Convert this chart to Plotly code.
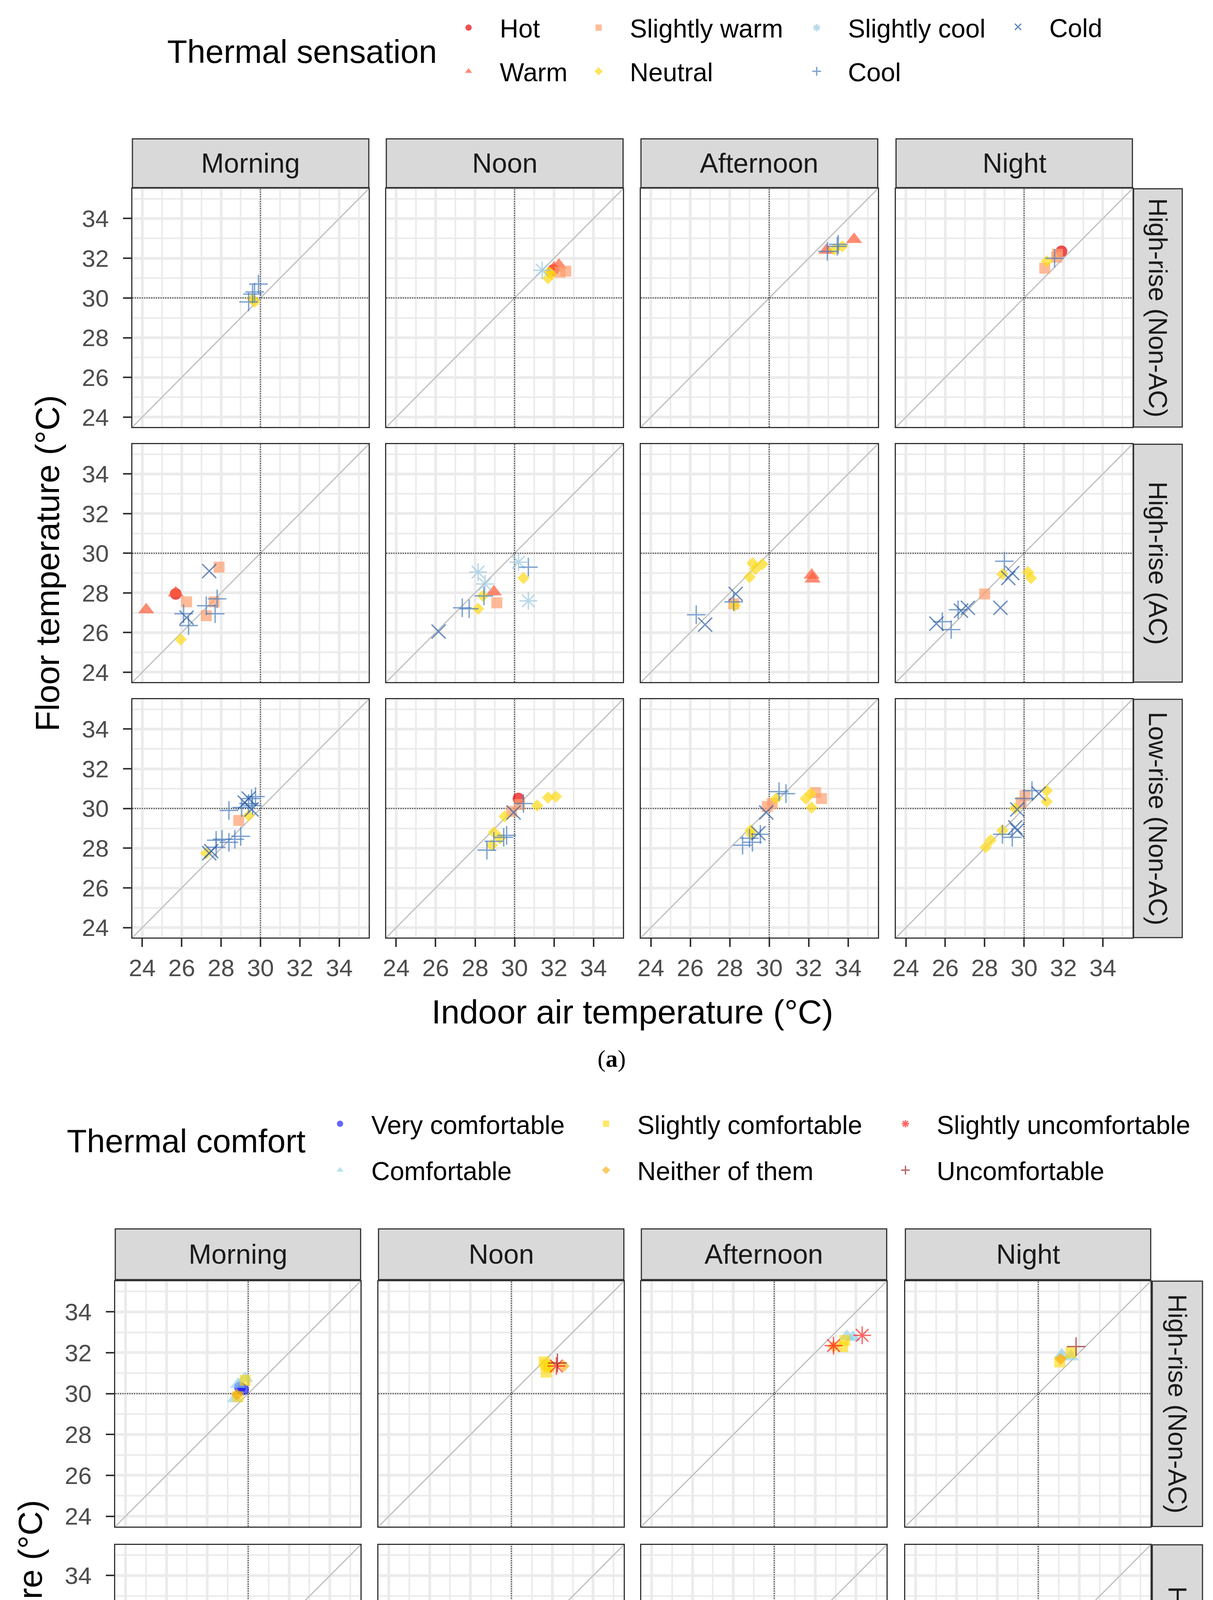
import plotly.graph_objects as go

# 1. Data (indoor air temp, floor temp) per facet
periods = ["Morning", "Noon", "Afternoon", "Night"]
buildings = ["High-rise (Non-AC)", "High-rise (AC)", "Low-rise (Non-AC)"]
axis_ticks = [24, 26, 28, 30, 32, 34]
minor_ticks = [23, 25, 27, 29, 31, 33, 35]

sensation_levels = ["Hot", "Warm", "Slightly warm", "Neutral", "Slightly cool", "Cool", "Cold"]
comfort_levels = ["Very comfortable", "Comfortable", "Slightly comfortable",
                  "Neither of them", "Slightly uncomfortable", "Uncomfortable"]

# (a) thermal sensation
sens_hn_morning = [("Cool", 29.9, 30.7), ("Cool", 29.7, 30.3), ("Cool", 29.6, 30.2), ("Cool", 29.4, 29.8),
                   ("Neutral", 29.6, 29.95), ("Neutral", 29.7, 29.8)]
sens_hn_noon = [("Slightly cool", 31.4, 31.4), ("Neutral", 31.75, 31.3), ("Neutral", 31.7, 31.0),
                ("Neutral", 31.85, 31.2), ("Hot", 31.95, 31.4), ("Warm", 32.25, 31.65), ("Warm", 32.0, 31.5),
                ("Slightly warm", 32.6, 31.35), ("Slightly warm", 32.3, 31.3)]
sens_hn_afternoon = [("Warm", 32.9, 32.4), ("Cool", 32.95, 32.35), ("Neutral", 33.3, 32.45), ("Neutral", 33.7, 32.6),
                     ("Cool", 33.5, 32.7), ("Cool", 33.45, 32.6), ("Warm", 34.3, 32.95)]
sens_hn_night = [("Hot", 31.9, 32.35), ("Slightly warm", 31.65, 32.05), ("Cool", 31.55, 32.0),
                 ("Slightly warm", 31.05, 31.5), ("Neutral", 31.15, 31.85), ("Slightly warm", 31.7, 32.2)]
sens_ha_morning = [("Warm", 24.2, 27.15), ("Hot", 25.7, 27.95), ("Warm", 25.7, 28.0), ("Slightly warm", 26.25, 27.55),
                   ("Cold", 26.25, 26.75), ("Cool", 26.35, 26.35), ("Neutral", 25.95, 25.65), ("Cold", 27.4, 29.1),
                   ("Slightly warm", 27.9, 29.3), ("Slightly warm", 27.25, 26.85), ("Slightly warm", 27.65, 27.55),
                   ("Cool", 27.8, 27.7), ("Cool", 27.25, 27.35), ("Cool", 27.7, 26.95), ("Cool", 26.1, 26.95)]
sens_ha_noon = [("Cold", 26.15, 26.05), ("Cool", 27.35, 27.25), ("Cool", 27.7, 27.2), ("Neutral", 28.15, 27.2),
                ("Neutral", 28.4, 27.85), ("Cool", 28.45, 27.85), ("Slightly cool", 28.15, 29.05),
                ("Slightly cool", 28.5, 28.45), ("Warm", 28.95, 28.05), ("Slightly warm", 29.1, 27.5),
                ("Slightly cool", 30.2, 29.55), ("Cool", 30.7, 29.3), ("Neutral", 30.45, 28.75),
                ("Slightly cool", 30.7, 27.6)]
sens_ha_afternoon = [("Cool", 26.3, 26.9), ("Cold", 26.75, 26.4), ("Cold", 28.3, 27.95), ("Cool", 28.2, 27.55),
                     ("Slightly warm", 28.2, 27.45), ("Neutral", 28.25, 27.35), ("Neutral", 29.0, 28.8),
                     ("Neutral", 29.15, 29.5), ("Neutral", 29.65, 29.45), ("Neutral", 29.3, 29.2),
                     ("Warm", 32.15, 28.9), ("Warm", 32.2, 28.7)]
sens_ha_night = [("Cool", 25.85, 26.55), ("Cold", 25.55, 26.45), ("Cool", 26.3, 26.15), ("Cool", 26.65, 27.15),
                 ("Cold", 26.8, 27.1), ("Cold", 27.15, 27.25), ("Slightly warm", 28.0, 27.95), ("Cold", 28.8, 27.25),
                 ("Cool", 29.0, 29.6), ("Cold", 29.2, 28.75), ("Cold", 29.4, 29.0), ("Neutral", 28.9, 28.95),
                 ("Neutral", 30.2, 29.05), ("Neutral", 30.35, 28.75)]
sens_ln_morning = [("Neutral", 27.25, 27.75), ("Cold", 27.4, 27.75), ("Cold", 27.5, 27.85), ("Cool", 27.75, 28.05),
                   ("Cool", 27.75, 28.4), ("Cool", 28.05, 28.45), ("Cool", 28.4, 28.3), ("Cool", 28.7, 28.45),
                   ("Cool", 29.0, 28.6), ("Slightly warm", 28.9, 29.4), ("Neutral", 29.4, 29.65), ("Cool", 28.4, 29.9),
                   ("Cool", 29.05, 30.05), ("Cool", 29.4, 30.25), ("Cool", 29.55, 30.5), ("Cold", 29.4, 30.5),
                   ("Cool", 29.75, 30.6), ("Cold", 29.55, 29.95), ("Cool", 29.6, 30.15), ("Cold", 29.2, 30.3)]
sens_ln_noon = [("Cool", 28.6, 27.9), ("Neutral", 28.85, 28.15), ("Cool", 28.95, 28.35), ("Neutral", 28.95, 28.8),
                ("Neutral", 29.25, 28.5), ("Cool", 29.6, 28.65), ("Cool", 29.45, 28.55), ("Neutral", 29.5, 29.6),
                ("Slightly warm", 29.85, 29.85), ("Slightly warm", 30.25, 30.2), ("Hot", 30.2, 30.5),
                ("Cold", 29.95, 29.8), ("Cool", 30.45, 30.25), ("Neutral", 31.15, 30.15), ("Neutral", 31.7, 30.55),
                ("Neutral", 32.1, 30.6)]
sens_ln_afternoon = [("Cool", 28.65, 28.15), ("Cool", 29.15, 28.3), ("Neutral", 29.1, 28.7), ("Cold", 29.45, 28.75),
                     ("Cool", 29.55, 28.7), ("Neutral", 29.05, 28.9), ("Cool", 29.0, 28.5), ("Cold", 29.85, 29.8),
                     ("Slightly warm", 29.9, 30.1), ("Slightly warm", 30.15, 30.25), ("Neutral", 30.35, 30.5),
                     ("Cool", 30.5, 30.85), ("Cool", 30.85, 30.75), ("Neutral", 31.85, 30.5),
                     ("Slightly warm", 32.35, 30.8), ("Slightly warm", 32.65, 30.5), ("Neutral", 32.15, 30.05),
                     ("Neutral", 32.1, 30.75)]
sens_ln_night = [("Neutral", 28.05, 28.05), ("Neutral", 28.3, 28.4), ("Neutral", 28.9, 28.9), ("Cool", 28.9, 28.7),
                 ("Cool", 29.4, 28.55), ("Cold", 29.65, 28.9), ("Cold", 29.55, 29.05), ("Neutral", 29.55, 30.0),
                 ("Cold", 29.65, 29.95), ("Slightly warm", 29.85, 30.3), ("Slightly warm", 30.05, 30.65),
                 ("Cool", 30.4, 30.9), ("Cold", 30.75, 30.75), ("Neutral", 31.15, 30.9), ("Neutral", 31.15, 30.35),
                 ("Cool", 30.0, 30.5)]

# (b) thermal comfort
comf_hn_morning = [("Slightly comfortable", 29.85, 30.65), ("Comfortable", 29.85, 30.75),
                   ("Very comfortable", 29.6, 30.3), ("Comfortable", 29.5, 30.45),
                   ("Slightly comfortable", 29.5, 29.85), ("Comfortable", 29.35, 29.75),
                   ("Neither of them", 29.45, 29.95), ("Very comfortable", 29.75, 30.2)]
comf_hn_noon = [("Slightly comfortable", 31.7, 31.4), ("Slightly comfortable", 31.7, 31.05),
                ("Slightly comfortable", 31.6, 31.55), ("Uncomfortable", 32.25, 31.5),
                ("Slightly uncomfortable", 32.2, 31.35), ("Neither of them", 32.55, 31.35),
                ("Slightly comfortable", 31.85, 31.3)]
comf_hn_afternoon = [("Slightly uncomfortable", 32.9, 32.35), ("Neither of them", 32.9, 32.3),
                     ("Slightly comfortable", 33.45, 32.6), ("Slightly comfortable", 33.35, 32.3),
                     ("Comfortable", 33.55, 32.8), ("Comfortable", 33.85, 32.75),
                     ("Slightly uncomfortable", 34.3, 32.85)]
comf_hn_night = [("Slightly comfortable", 31.05, 31.55), ("Comfortable", 31.15, 31.9),
                 ("Slightly comfortable", 31.6, 32.0), ("Comfortable", 31.6, 31.8),
                 ("Uncomfortable", 31.85, 32.3), ("Neither of them", 31.1, 31.7)]
comf_ha_morning = [("Slightly uncomfortable", 24.15, 27.05), ("Slightly uncomfortable", 25.7, 27.95),
                   ("Neither of them", 25.7, 27.9), ("Slightly comfortable", 26.25, 27.55),
                   ("Very comfortable", 26.1, 26.95), ("Comfortable", 26.3, 26.3), ("Comfortable", 25.9, 25.7),
                   ("Comfortable", 26.2, 26.75), ("Very comfortable", 27.45, 29.05), ("Comfortable", 27.95, 29.35),
                   ("Very comfortable", 27.75, 27.7), ("Neither of them", 27.7, 27.6),
                   ("Slightly comfortable", 27.65, 27.55), ("Comfortable", 27.4, 27.3), ("Comfortable", 27.3, 26.9),
                   ("Comfortable", 27.7, 27.0)]
comf_ha_noon = [("Comfortable", 26.15, 26.1), ("Very comfortable", 27.3, 27.25), ("Comfortable", 27.6, 27.3),
                ("Comfortable", 28.1, 27.3), ("Comfortable", 28.15, 29.1), ("Very comfortable", 28.4, 27.85),
                ("Neither of them", 28.45, 27.9), ("Slightly comfortable", 28.6, 28.45),
                ("Slightly uncomfortable", 28.95, 27.95), ("Slightly uncomfortable", 29.05, 27.55),
                ("Comfortable", 30.15, 29.6), ("Slightly comfortable", 30.7, 29.3),
                ("Slightly comfortable", 30.4, 28.75), ("Comfortable", 30.65, 27.65)]
comf_ha_afternoon = [("Very comfortable", 26.3, 26.9), ("Comfortable", 26.8, 26.4), ("Very comfortable", 28.3, 27.4),
                     ("Slightly uncomfortable", 28.3, 27.45), ("Very comfortable", 28.35, 27.9),
                     ("Slightly comfortable", 28.45, 27.95), ("Slightly comfortable", 28.95, 28.75),
                     ("Slightly comfortable", 29.1, 28.95), ("Slightly comfortable", 29.4, 29.3),
                     ("Slightly comfortable", 29.75, 29.4), ("Comfortable", 29.15, 29.6),
                     ("Slightly uncomfortable", 32.2, 28.8), ("Uncomfortable", 32.15, 28.9)]
comf_ha_night = [("Slightly comfortable", 25.6, 26.45), ("Very comfortable", 25.8, 26.55), ("Comfortable", 26.3, 26.15),
                 ("Very comfortable", 26.7, 27.15), ("Slightly comfortable", 26.8, 27.05),
                 ("Very comfortable", 27.1, 27.2), ("Neither of them", 26.75, 27.1),
                 ("Slightly uncomfortable", 28.0, 27.95), ("Comfortable", 28.8, 27.3),
                 ("Very comfortable", 29.2, 28.5), ("Very comfortable", 29.4, 29.0), ("Neither of them", 28.85, 28.95),
                 ("Slightly comfortable", 29.0, 29.6), ("Comfortable", 30.25, 29.1), ("Comfortable", 30.4, 28.8)]
comf_ln_morning = [("Slightly comfortable", 27.25, 27.75), ("Very comfortable", 27.7, 27.85),
                   ("Comfortable", 27.25, 27.7), ("Comfortable", 27.75, 28.2), ("Slightly comfortable", 27.95, 28.5),
                   ("Comfortable", 28.25, 28.35), ("Comfortable", 28.55, 28.4), ("Comfortable", 28.85, 28.65),
                   ("Comfortable", 27.9, 28.45), ("Neither of them", 27.5, 27.8), ("Comfortable", 28.4, 29.95),
                   ("Comfortable", 28.95, 29.45), ("Slightly comfortable", 29.5, 29.7),
                   ("Very comfortable", 29.4, 30.45), ("Comfortable", 29.2, 30.6), ("Comfortable", 29.8, 30.65),
                   ("Comfortable", 29.6, 30.05), ("Comfortable", 29.0, 29.9), ("Neither of them", 29.7, 29.85)]
comf_ln_noon = [("Comfortable", 28.6, 28.0), ("Very comfortable", 29.0, 28.35), ("Comfortable", 28.95, 28.75),
                ("Comfortable", 29.45, 28.65), ("Comfortable", 29.6, 28.85), ("Comfortable", 29.55, 29.6),
                ("Comfortable", 29.85, 29.95), ("Slightly uncomfortable", 30.25, 30.45),
                ("Comfortable", 30.5, 30.45), ("Comfortable", 31.2, 30.2), ("Comfortable", 31.75, 30.6),
                ("Comfortable", 32.15, 30.65)]
comf_ln_afternoon = [("Comfortable", 28.8, 28.2), ("Comfortable", 29.1, 28.35), ("Slightly comfortable", 29.15, 28.75),
                     ("Comfortable", 29.3, 28.8), ("Comfortable", 29.6, 28.75), ("Comfortable", 29.85, 29.8),
                     ("Slightly comfortable", 29.95, 30.1), ("Slightly uncomfortable", 30.4, 30.4),
                     ("Comfortable", 30.25, 30.75), ("Comfortable", 30.55, 30.9), ("Comfortable", 30.95, 30.65),
                     ("Comfortable", 32.0, 30.75), ("Comfortable", 32.4, 30.9), ("Comfortable", 32.8, 30.55),
                     ("Comfortable", 31.85, 30.4), ("Comfortable", 32.2, 30.05)]
comf_ln_night = [("Comfortable", 28.05, 28.05), ("Comfortable", 28.4, 28.35), ("Slightly comfortable", 28.85, 28.85),
                 ("Neither of them", 28.8, 28.7), ("Comfortable", 29.35, 28.65), ("Comfortable", 29.6, 28.95),
                 ("Comfortable", 29.9, 29.05), ("Comfortable", 29.7, 29.85), ("Comfortable", 29.85, 30.25),
                 ("Slightly comfortable", 30.4, 30.5), ("Comfortable", 30.3, 31.0), ("Comfortable", 30.75, 30.9),
                 ("Comfortable", 31.2, 30.75), ("Comfortable", 31.15, 30.3), ("Comfortable", 30.15, 30.65)]

sens_panels = [[sens_hn_morning, sens_hn_noon, sens_hn_afternoon, sens_hn_night],
               [sens_ha_morning, sens_ha_noon, sens_ha_afternoon, sens_ha_night],
               [sens_ln_morning, sens_ln_noon, sens_ln_afternoon, sens_ln_night]]
comf_panels = [[comf_hn_morning, comf_hn_noon, comf_hn_afternoon, comf_hn_night],
               [comf_ha_morning, comf_ha_noon, comf_ha_afternoon, comf_ha_night],
               [comf_ln_morning, comf_ln_noon, comf_ln_afternoon, comf_ln_night]]

# 2. Styles: symbol, colour, size, alpha, legend
sens_style = {
    "Hot": ("circle", "#E70505", 30, 0.7, "legend"),
    "Warm": ("triangle-up", "#FF5B37", 36, 0.7, "legend"),
    "Slightly warm": ("square", "#FF9E6D", 28, 0.7, "legend2"),
    "Neutral": ("diamond", "#FFDA16", 24, 0.7, "legend2"),
    "Slightly cool": ("asterisk-open", "#9AC7DE", 38, 0.7, "legend3"),
    "Cool": ("cross-thin-open", "#487CBC", 34, 0.7, "legend3"),
    "Cold": ("x-thin-open", "#315FA5", 36, 0.7, "legend4"),
}
comf_style = {
    "Very comfortable": ("circle", "#0000FF", 30, 0.6, "legend5"),
    "Comfortable": ("triangle-up", "#87CEEB", 36, 0.6, "legend5"),
    "Slightly comfortable": ("square", "#FFD700", 28, 0.6, "legend6"),
    "Neither of them": ("diamond", "#FFA500", 24, 0.6, "legend6"),
    "Slightly uncomfortable": ("asterisk-open", "#FF0000", 38, 0.6, "legend7"),
    "Uncomfortable": ("cross-thin-open", "#8B0000", 34, 0.6, "legend7"),
}

W, H = 3106, 5677
FONT = "Liberation Sans, Arial, sans-serif"


def fx(v):
    return v / W


def fy(v):
    return 1 - v / H


def label(text, x, y, size, color="black", angle=0, family=FONT):
    return dict(text=text, x=fx(x), y=fy(y), xref="paper", yref="paper", showarrow=False,
                xanchor="center", yanchor="middle", textangle=angle,
                font=dict(family=family, size=size, color=color))


charts = [
    dict(panels=sens_panels, levels=sensation_levels, style=sens_style,
         cols=[(323, 930), (975, 1583), (1629, 2237), (2284, 2891)],
         rows=[(476, 1087), (1131, 1741), (1785, 2396)],
         strip_top=(348, 473), strip_right=(2894, 3019),
         ytitle_x=104, xtitle_y=2586, caption_y=2707, caption="(<b>a</b>)"),
    dict(panels=comf_panels, levels=comfort_levels, style=comf_style,
         cols=[(279, 909), (955, 1585), (1630, 2260), (2308, 2938)],
         rows=[(3277, 3906), (3953, 4584), (4629, 5261)],
         strip_top=(3143, 3273), strip_right=(2942, 3071),
         ytitle_x=60, xtitle_y=5454, caption_y=5628, caption="(<b>b</b>)"),
]


def marker_of(style):
    sym, col, size, alpha, _ = style
    if sym.endswith("open"):
        return dict(symbol=sym, size=size, color=col, opacity=alpha, line=dict(color=col, width=3.5))
    return dict(symbol=sym, size=size, color=col, opacity=alpha, line=dict(width=0))


fig = go.Figure()

# 3. Legend-only entries first so the legend order follows the level order
for chart in charts:
    for lvl in chart["levels"]:
        st = chart["style"][lvl]
        fig.add_trace(go.Scatter(
            x=[None], y=[None], mode="markers", name=lvl, marker=marker_of(st),
            legend=st[4], legendgroup=lvl, showlegend=True, xaxis="x", yaxis="y"
        ))

shapes = []
annotations = []
axes = {}
k = 0
for chart in charts:
    for r, (y0, y1) in enumerate(chart["rows"]):
        for c, (x0, x1) in enumerate(chart["cols"]):
            k += 1
            xn = "x" if k == 1 else f"x{k}"
            yn = "y" if k == 1 else f"y{k}"
            bottom = r == len(chart["rows"]) - 1
            left = c == 0
            common = dict(
                range=[23.5, 35.5], tickmode="array", tickvals=axis_ticks,
                tickfont=dict(family=FONT, size=62, color="#4D4D4D"),
                ticklen=21, tickwidth=4, tickcolor="#333333",
                showgrid=True, gridcolor="#EBEBEB", gridwidth=7,
                minor=dict(tickvals=minor_ticks, showgrid=True, gridcolor="#EBEBEB", gridwidth=3.5, ticks=""),
                showline=True, mirror=True, linecolor="#333333", linewidth=3,
                zeroline=False, fixedrange=True,
            )
            axes["xaxis" if k == 1 else f"xaxis{k}"] = dict(
                common, domain=[fx(x0), fx(x1)], anchor=yn,
                ticks="outside" if bottom else "", showticklabels=bottom)
            axes["yaxis" if k == 1 else f"yaxis{k}"] = dict(
                common, domain=[fy(y1), fy(y0)], anchor=xn,
                ticks="outside" if left else "", showticklabels=left, ticklabelstandoff=24)

            # reference lines: 1:1 diagonal and the 30 °C dotted cross
            shapes.append(dict(type="line", xref=xn, yref=yn, x0=23.5, y0=23.5, x1=35.5, y1=35.5,
                               line=dict(color="#BEBEBE", width=3), layer="between"))
            shapes.append(dict(type="line", xref=xn, yref=yn, x0=30, x1=30, y0=23.5, y1=35.5,
                               line=dict(color="#333333", width=2.5, dash="dot"), layer="between"))
            shapes.append(dict(type="line", xref=xn, yref=yn, x0=23.5, x1=35.5, y0=30, y1=30,
                               line=dict(color="#333333", width=2.5, dash="dot"), layer="between"))

            pts = chart["panels"][r][c]
            for lvl in chart["levels"]:
                sel = [p for p in pts if p[0] == lvl]
                if not sel:
                    continue
                st = chart["style"][lvl]
                fig.add_trace(go.Scatter(
                    x=[p[1] for p in sel], y=[p[2] for p in sel], mode="markers", name=lvl,
                    marker=marker_of(st), legend=st[4], legendgroup=lvl, showlegend=False,
                    xaxis=xn, yaxis=yn
                ))

    # facet strips
    s0, s1 = chart["strip_top"]
    for c, (x0, x1) in enumerate(chart["cols"]):
        shapes.append(dict(type="rect", xref="paper", yref="paper", x0=fx(x0), x1=fx(x1), y0=fy(s1), y1=fy(s0),
                           fillcolor="#D9D9D9", line=dict(color="#333333", width=3)))
        annotations.append(label(periods[c], (x0 + x1) / 2, (s0 + s1) / 2, 70, "#1A1A1A"))
    r0, r1 = chart["strip_right"]
    for r, (y0, y1) in enumerate(chart["rows"]):
        shapes.append(dict(type="rect", xref="paper", yref="paper", x0=fx(r0), x1=fx(r1), y0=fy(y1), y1=fy(y0),
                           fillcolor="#D9D9D9", line=dict(color="#333333", width=3)))
        annotations.append(label(buildings[r], (r0 + r1) / 2, (y0 + y1) / 2, 66, "#1A1A1A", angle=90))

    # axis titles and caption
    left_px = chart["cols"][0][0]
    right_px = chart["cols"][-1][1]
    top_px = chart["rows"][0][0]
    bottom_px = chart["rows"][-1][1]
    annotations.append(label("Indoor air temperature (°C)", (left_px + right_px) / 2, chart["xtitle_y"], 86))
    annotations.append(label("Floor temperature (°C)", chart["ytitle_x"], (top_px + bottom_px) / 2, 86, angle=-90))
    annotations.append(label(chart["caption"], W / 2, chart["caption_y"], 62,
                             family="Liberation Serif, serif"))

# legend titles
annotations.append(label("Thermal sensation", 759, 124, 84))
annotations.append(label("Thermal comfort", 461, 2918, 84))


def legend_box(marker_x, center_y, gap):
    return dict(x=fx(marker_x - 80), y=fy(center_y), xanchor="left", yanchor="middle", orientation="v",
                itemwidth=150, tracegroupgap=gap, traceorder="grouped", bgcolor="rgba(0,0,0,0)",
                borderwidth=0, font=dict(family=FONT, size=66, color="black"))


fig.update_layout(
    width=W, height=H, autosize=False,
    margin=dict(l=0, r=0, t=0, b=0),
    paper_bgcolor="white", plot_bgcolor="white",
    shapes=shapes, annotations=annotations,
    legend=legend_box(1186, 119, 23),
    legend2=legend_box(1520, 119, 23),
    legend3=legend_box(2080, 119, 23),
    legend4=legend_box(2597, 61, 23),
    legend5=legend_box(856, 2933, 30),
    legend6=legend_box(1539, 2933, 30),
    legend7=legend_box(2308, 2933, 30),
    hovermode="closest",
    **axes
)

fig.write_html("out.html")
